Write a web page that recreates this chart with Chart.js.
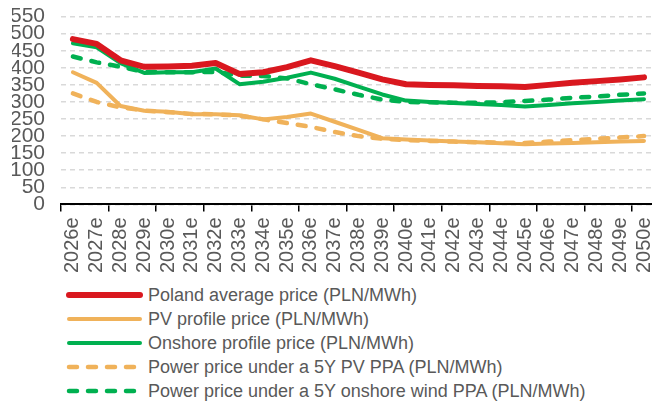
<!DOCTYPE html>
<html>
<head>
<meta charset="utf-8">
<script src="https://cdn.jsdelivr.net/npm/chart.js@4"></script>
<style>
  body { margin: 0; background: #fff; overflow: hidden; width: 652px; height: 403px; }
  #wrap { width: 674px; height: 283px; position: relative; }
  #legend { margin: 0 0 0 66px; font-family: "Liberation Sans", Arial, sans-serif; font-size: 18px; color: #595959; }
  .row { height: 24px; display: flex; align-items: center; }
  .row svg { margin-right: 5px; }
</style>
</head>
<body>
<div id="wrap"><canvas id="chart"></canvas></div>
<div id="legend"></div>
<script>
var years = ['2026e','2027e','2028e','2029e','2030e','2031e','2032e','2033e','2034e','2035e','2036e','2037e','2038e',
             '2039e','2040e','2041e','2042e','2043e','2044e','2045e','2046e','2047e','2048e','2049e','2050e'];

var poland_avg = [484, 470, 422, 403, 404, 406, 414, 382, 387, 402, 422, 405, 386, 366, 352, 350, 349, 347, 346, 344, 350, 356, 361, 366, 372];
var pv_profile = [387, 356, 288, 274, 271, 264, 264, 261, 249, 256, 266, 242, 218, 194, 190, 187, 184, 182, 179, 176, 178, 180, 182, 184, 186];
var onshore_profile = [472, 460, 414, 385, 387, 387, 398, 352, 359, 371, 386, 368, 345, 322, 304, 300, 297, 294, 291, 287, 291, 296, 300, 304, 308];
var pv_ppa = [325, 300, 284, 275, 270, 265, 264, 260, 249, 238, 227, 212, 200, 192, 188, 186, 184, 182, 181, 180, 184, 188, 192, 196, 200];
var onshore_ppa = [433, 416, 403, 388, 387, 387, 388, 377, 376, 369, 352, 337, 321, 307, 300, 299, 298, 298, 299, 303, 307, 312, 316, 321, 325];

var y_ticks = [0, 50, 100, 150, 200, 250, 300, 350, 400, 450, 500, 550];

var red = '#D9181F', orange = '#F0B25A', green = '#00B050', grey = '#595959';
var font = '"Liberation Sans", Arial, sans-serif';
var dash = [8, 11];

function line(label, data, color, width, dashed) {
    return {
        label: label,
        data: data,
        borderColor: color,
        backgroundColor: color,
        borderWidth: width,
        borderDash: dashed ? dash : [],
        borderCapStyle: 'round',
        borderJoinStyle: 'round',
        pointRadius: 0,
        tension: 0,
        fill: false
    };
}

var datasets = [
    line('Poland average price (PLN/MWh)', poland_avg, red, 6, false),
    line('PV profile price (PLN/MWh)', pv_profile, orange, 4, false),
    line('Onshore profile price (PLN/MWh)', onshore_profile, green, 4, false),
    line('Power price under a 5Y PV PPA (PLN/MWh)', pv_ppa, orange, 4.5, true),
    line('Power price under a 5Y onshore wind PPA (PLN/MWh)', onshore_ppa, green, 4.5, true)
];

var ctx = document.getElementById('chart').getContext('2d');
var chart = new Chart(ctx, {
    type: 'line',
    data: { labels: years, datasets: datasets },
    options: {
        responsive: true,
        maintainAspectRatio: false,
        animation: false,
        layout: { padding: { left: 12, right: 0, top: 0, bottom: 4 } },
        plugins: { legend: { display: false }, tooltip: { enabled: false } },
        scales: {
            x: {
                type: 'category',
                offset: true,
                grid: {
                    offset: true,
                    drawOnChartArea: false,
                    tickLength: 7,
                    lineWidth: 1.5,
                    // tick mark on every second category boundary
                    color: function (c) { return c.index % 2 === 0 ? '#000' : 'rgba(0,0,0,0)'; }
                },
                border: { display: true, color: '#000', width: 2 },
                ticks: {
                    autoSkip: false,
                    minRotation: 90,
                    maxRotation: 90,
                    padding: 6,
                    color: grey,
                    font: { family: font, size: 20 }
                }
            },
            y: {
                min: 0,
                max: 550,
                afterBuildTicks: function (axis) {
                    axis.ticks = y_ticks.map(function (v) { return { value: v }; });
                },
                afterFit: function (axis) { axis.width = 49; },
                grid: { color: '#D9D9D9', lineWidth: 1.5, drawTicks: true, tickLength: 12, tickColor: 'rgba(0,0,0,0)' },
                border: { display: false, dash: [5, 4] },
                ticks: {
                    autoSkip: false,
                    padding: 4,
                    color: grey,
                    font: { family: font, size: 21 }
                }
            }
        }
    }
});

// legend below the chart, one series per row
var legend = document.getElementById('legend');
chart.data.datasets.forEach(function (ds) {
    var row = document.createElement('div');
    row.className = 'row';
    var da = ds.borderDash.length ? ' stroke-dasharray="' + ds.borderDash.join(' ') + '"' : '';
    row.innerHTML = '<svg width="77" height="10"><line x1="3" y1="5" x2="74" y2="5" stroke="' + ds.borderColor +
        '" stroke-width="' + ds.borderWidth + '" stroke-linecap="round"' + da + '/></svg><span>' + ds.label + '</span>';
    legend.appendChild(row);
});
</script>
</body>
</html>
